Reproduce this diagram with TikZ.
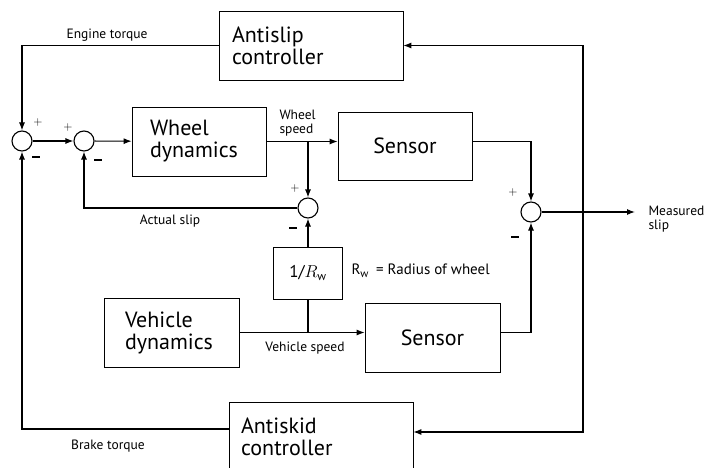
\documentclass[tikz,border=0pt]{standalone}
\usepackage{fontspec}
\setmainfont{PT Sans}
\usetikzlibrary{arrows, arrows.meta, positioning, calc}

\tikzstyle{block} = [
draw=black,
line width=0.7pt,
rectangle,
font=\fontsize{22}{22}\selectfont,
align=left,
minimum height=69pt]
\tikzstyle{sum} = [
draw=black,
line width=1.1pt,
circle,
minimum size=20pt,
inner sep=0pt]
\tikzstyle{arrow} = [
draw=black,
line width=1.1pt,
-{Latex[length=8pt, width=6pt]}]
\tikzstyle{wire} = [
draw=black,
line width=1.1pt]
\tikzstyle{sig} = [
font=\fontsize{13.5}{14.5}\selectfont,
align=left]
\tikzstyle{plus} = [inner sep=0pt, font=\fontsize{12}{12}\selectfont]
\tikzstyle{minus} = [inner sep=0pt]

\newcommand{\minusbar}{\rule{7.5pt}{2.8pt}}

\begin{document}
\begin{tikzpicture}[x=1pt, y=-1pt]
\useasboundingbox (0,0) rectangle (707,468);

% blocks
\node[block, text width=158pt, inner xsep=13pt] (antislip) at (311,45.5) {Antislip\\controller};
\node[block, text width=98pt, inner xsep=18pt] (wheelDyn) at (199,141.5) {Wheel\\dynamics};
\node[block, minimum width=134pt, minimum height=68pt, align=center] (sensorA) at (405,146) {Sensor};
\node[block, minimum width=69pt, minimum height=52pt, font=\fontsize{17}{19}\selectfont] (invRadius) at (308,273) {1/$R_{\mathrm{w}}$};
\node[block, text width=93pt, inner xsep=21pt] (vehicleDyn) at (171.5,332.5) {Vehicle\\dynamics};
\node[block, minimum width=135pt, align=center] (sensorB) at (432.5,337.5) {Sensor};
\node[block, text width=160pt, inner xsep=12pt] (antiskid) at (321,436.5) {Antiskid\\controller};

% summing points
\node[sum] (outerSum) at (22,141) {};
\node[sum] (innerSum) at (84,141) {};
\node[sum] (slipSum) at (308,208) {};
\node[sum] (measSum) at (531,212) {};

% signs
\node[plus] (p1) at (38,123) {$+$};
\node[minus] (m1) at (36,157) {\minusbar};
\node[plus] (p2) at (68,128) {$+$};
\node[minus] (m2) at (98,160) {\minusbar};
\node[plus] (p3) at (295,188) {$+$};
\node[minus] (m3) at (293,228) {\minusbar};
\node[plus] (p4) at (513,193) {$+$};
\node[minus] (m4) at (515,237) {\minusbar};

% coordinates
\coordinate (wsBranch) at (wheelDyn.east -| slipSum);
\coordinate (vsBranch) at (vehicleDyn.east -| invRadius);
\coordinate (slipOut) at (635,212);
\coordinate (fb) at (583,212);

% connectors
\draw[arrow] (outerSum) -- (innerSum);
\draw[arrow] (innerSum) -- (wheelDyn);
\draw[arrow] (wheelDyn.east) -- (wheelDyn.east -| sensorA.west);
\draw[arrow] (wsBranch) -- (slipSum);
\draw[arrow] (slipSum.west) -| (innerSum.south);
\draw[arrow] (invRadius) -- (slipSum);
\draw[wire] (invRadius) -- (vsBranch);
\draw[arrow] (vehicleDyn.east) -- (vehicleDyn.east -| sensorB.west);
\draw[arrow] (wheelDyn.east -| sensorA.east) -| (measSum);
\draw[arrow] (vehicleDyn.east -| sensorB.east) -| (measSum);
\draw[arrow] (measSum) -- (slipOut);
\draw[arrow] (fb) |- (antislip.east);
\draw[arrow] (fb) |- ([yshift=4.5pt]antiskid.east);
\draw[arrow] (antislip.west) -| (outerSum);
\draw[arrow] ([yshift=7.5pt]antiskid.west) -| (outerSum);

% signal labels
\node[sig] (engineLbl) at (107,35) {Engine torque};
\node[sig, anchor=west] (wsLbl) at (276,123) {Wheel\\speed};
\node[sig] (slipLbl) at (170,221) {Actual slip};
\node[sig] (vsLbl) at (305,348) {Vehicle speed};
\node[sig] (brakeLbl) at (108,446) {Brake torque};
\node[sig, anchor=west] (measLbl) at (645,219) {Measured\\slip};
\node[sig, anchor=west, font=\fontsize{15}{16}\selectfont] (rwLbl) at (348,271) {R\raisebox{-0.45ex}{\fontsize{11}{11}\selectfont w}\enspace= Radius of wheel};

\end{tikzpicture}
\end{document}
